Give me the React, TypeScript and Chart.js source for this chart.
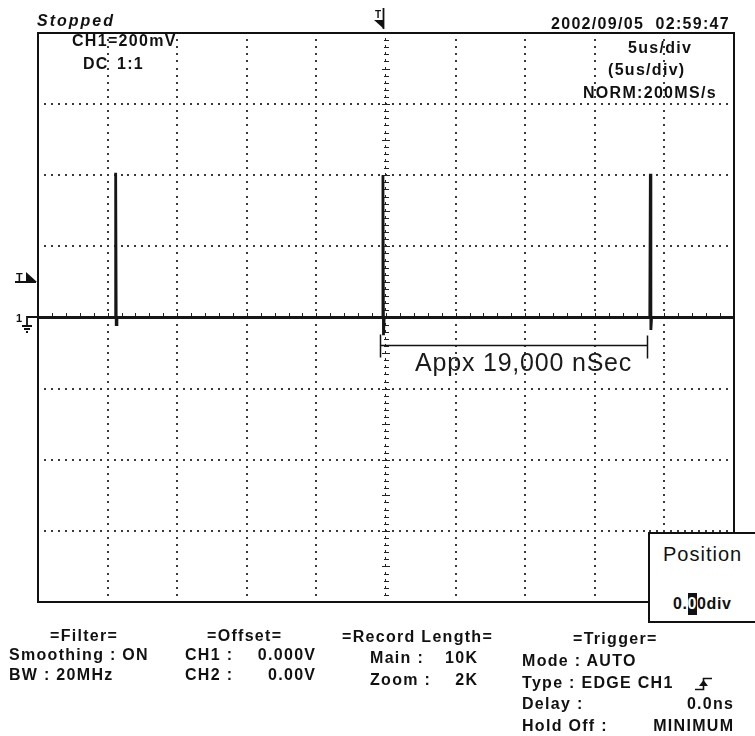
import React, { useEffect, useRef } from "react";
import { Chart, registerables } from "chart.js";
Chart.register(...registerables);

const timeUs = [-25, -19.46, -19.42, -19.38, -19.33, -0.26, -0.22, -0.18, -0.13, 18.95, 18.99, 19.03, 19.08, 25];
const ch1Volts = [0, 0, 0.407, -0.02, 0, 0, 0.4, -0.05, 0, 0, 0.404, -0.035, 0, 0];
const xRangeUs = [-25, 25];
const yRangeV = [-0.8, 0.8];
const xGridUs = [-20, -15, -10, -5, 5, 10, 15, 20];
const yGridV = [-0.6, -0.4, -0.2, 0.2, 0.4, 0.6];
const triggerTimeUs = -0.22;
const triggerLevelV = 0.114;
const groundLevelV = 0;
const measureStartUs = -0.42;
const measureEndUs = 18.78;
const bracketLevelV = -0.078;

const FONT = '"Liberation Sans", Arial, sans-serif';

type TxtProps = {
  x?: number;
  right?: number;
  y: number;
  size?: number;
  bold?: boolean;
  italic?: boolean;
  ls?: number;
  color?: string;
  children: React.ReactNode;
};

function Txt({ x, right, y, size = 16, bold = true, italic = false, ls = 1.3, color = "#111", children }: TxtProps) {
  const style: React.CSSProperties = {
    position: "absolute",
    top: y - 0.13 * size,
    fontFamily: FONT,
    fontSize: size,
    lineHeight: `${size}px`,
    fontWeight: bold ? 700 : 400,
    fontStyle: italic ? "italic" : "normal",
    letterSpacing: ls,
    whiteSpace: "pre",
    color,
  };
  if (right !== undefined) style.right = 755 - right - ls;
  else style.left = x;
  return <div style={style}>{children}</div>;
}

export default function App() {
  const ref = useRef<HTMLCanvasElement>(null);

  useEffect(() => {
    const canvas = ref.current;
    if (!canvas) return;

    const scopePlugin = {
      id: "scopeScreen",
      beforeDatasetsDraw(chart: any) {
        const { ctx, scales } = chart;
        const x = scales.x;
        const y = scales.y;
        ctx.save();
        ctx.fillStyle = "#3a3a3a";
        const dot = (px: number, py: number) => ctx.fillRect(Math.round(px - 1), Math.round(py - 1), 2, 2);
        // vertical dotted grid lines (dots every 1/10 div)
        for (const g of xGridUs) {
          const px = x.getPixelForValue(g);
          for (let k = 1; k < 80; k++) dot(px, y.getPixelForValue(yRangeV[0] + k * 0.02));
        }
        // horizontal dotted grid lines
        for (const g of yGridV) {
          const py = y.getPixelForValue(g);
          for (let k = 1; k < 100; k++) dot(x.getPixelForValue(xRangeUs[0] + k * 0.5), py);
        }
        // centre axes with minor ticks
        ctx.fillStyle = "#222";
        const x0 = x.getPixelForValue(0);
        const y0 = y.getPixelForValue(groundLevelV);
        for (let k = 1; k < 80; k++) {
          const py = Math.round(y.getPixelForValue(yRangeV[0] + k * 0.02));
          const w = k % 5 === 0 ? 8 : 5;
          ctx.fillRect(Math.round(x0 - w / 2), py, w, 1);
          ctx.fillRect(Math.round(x0) - 1, py - 2, 1, 3);
        }
        for (let k = 1; k < 50; k++) {
          const px = Math.round(x.getPixelForValue(xRangeUs[0] + k * 1));
          ctx.fillRect(px, Math.round(y0 - 5), 1, 6);
        }
        ctx.restore();
      },
      afterDatasetsDraw(chart: any) {
        const { ctx, chartArea: a, scales } = chart;
        const x = scales.x;
        const y = scales.y;
        ctx.save();
        ctx.strokeStyle = "#111";
        ctx.fillStyle = "#111";
        // frame
        ctx.lineWidth = 2;
        ctx.strokeRect(a.left, a.top, a.right - a.left, a.bottom - a.top);

        // measurement bracket
        const xs = Math.round(x.getPixelForValue(measureStartUs)) + 0.5;
        const xe = Math.round(x.getPixelForValue(measureEndUs)) + 0.5;
        const yb = Math.round(y.getPixelForValue(bracketLevelV)) + 0.5;
        ctx.lineWidth = 1.5;
        ctx.beginPath();
        ctx.moveTo(xs, yb);
        ctx.lineTo(xe, yb);
        ctx.moveTo(xs, yb - 11);
        ctx.lineTo(xs, yb + 12);
        ctx.moveTo(xe, yb - 10);
        ctx.lineTo(xe, yb + 13);
        ctx.stroke();

        // trigger level marker (left)
        const ty = Math.round(y.getPixelForValue(triggerLevelV));
        ctx.font = `bold 11px ${FONT}`;
        ctx.fillText("T", 16, ty + 4);
        ctx.fillRect(15, ty + 4, 21, 2);
        ctx.beginPath();
        ctx.moveTo(26, ty - 5);
        ctx.lineTo(26, ty + 5);
        ctx.lineTo(37, ty + 5);
        ctx.closePath();
        ctx.fill();

        // ground marker (left)
        const gy = Math.round(y.getPixelForValue(groundLevelV));
        ctx.font = `bold 11px ${FONT}`;
        ctx.fillText("1", 16, gy + 4);
        ctx.lineWidth = 1.8;
        ctx.beginPath();
        ctx.moveTo(37, gy - 1);
        ctx.lineTo(27, gy - 1);
        ctx.lineTo(27, gy + 8);
        ctx.moveTo(22, gy + 8);
        ctx.lineTo(32, gy + 8);
        ctx.moveTo(24, gy + 11);
        ctx.lineTo(30, gy + 11);
        ctx.moveTo(26, gy + 14);
        ctx.lineTo(28, gy + 14);
        ctx.stroke();

        // trigger time marker (top)
        const tx = Math.round(x.getPixelForValue(triggerTimeUs));
        ctx.font = `bold 10px ${FONT}`;
        ctx.fillText("T", tx - 8, 18);
        ctx.lineWidth = 1.8;
        ctx.beginPath();
        ctx.moveTo(tx + 0.5, 8);
        ctx.lineTo(tx + 0.5, 29);
        ctx.stroke();
        ctx.beginPath();
        ctx.moveTo(tx - 9, 20);
        ctx.lineTo(tx + 1, 20);
        ctx.lineTo(tx + 1, 29);
        ctx.closePath();
        ctx.fill();

        // rising-edge symbol
        ctx.lineWidth = 1.6;
        ctx.beginPath();
        ctx.moveTo(695, 689.5);
        ctx.lineTo(703.5, 689.5);
        ctx.lineTo(703.5, 678.5);
        ctx.lineTo(712, 678.5);
        ctx.stroke();
        ctx.beginPath();
        ctx.moveTo(699, 686);
        ctx.lineTo(708, 686);
        ctx.lineTo(703.5, 680);
        ctx.closePath();
        ctx.fill();
        ctx.restore();
      },
    };

    const chart = new Chart(canvas, {
      type: "line",
      data: {
        datasets: [
          {
            label: "CH1",
            data: timeUs.map((t, i) => ({ x: t, y: ch1Volts[i] })),
            borderColor: "#161616",
            borderWidth: 2.8,
            pointRadius: 0,
            tension: 0,
            fill: false,
          },
        ],
      },
      options: {
        animation: false,
        responsive: false,
        layout: { padding: { left: 38, top: 33, right: 21, bottom: 134 } },
        scales: {
          x: { type: "linear", min: xRangeUs[0], max: xRangeUs[1], display: false },
          y: { type: "linear", min: yRangeV[0], max: yRangeV[1], display: false },
        },
        plugins: { legend: { display: false }, tooltip: { enabled: false } },
      },
      plugins: [scopePlugin],
    });
    return () => chart.destroy();
  }, []);

  return (
    <div style={{ position: "absolute", left: 0, top: 0, width: 755, height: 736, background: "#fff", overflow: "hidden" }}>
      <canvas ref={ref} width={755} height={736} style={{ position: "absolute", left: 0, top: 0, width: 755, height: 736 }} />

      {/* status line */}
      <Txt x={37} y={15} italic ls={2}>Stopped</Txt>
      <Txt x={551} y={18}>2002/09/05  02:59:47</Txt>

      {/* in-graticule labels */}
      <Txt x={72} y={35}>CH1=200mV</Txt>
      <Txt x={83} y={58}>DC</Txt>
      <Txt x={117} y={58}>1:1</Txt>
      <Txt x={628} y={42}>5us/div</Txt>
      <Txt x={608} y={64}>(5us/div)</Txt>
      <Txt x={583} y={87}>NORM:200MS/s</Txt>

      <Txt x={415} y={353} size={25} bold={false} ls={0.8} color="#1a1a1a">Appx 19,000 nSec</Txt>

      {/* Position box */}
      <div style={{ position: "absolute", left: 648, top: 532, width: 130, height: 91, boxSizing: "border-box", border: "2px solid #111", background: "#fff" }} />
      <Txt x={663} y={547} size={20} bold={false} ls={1}>Position</Txt>
      <div style={{ position: "absolute", left: 673, top: 595 - 2, fontFamily: FONT, fontSize: 16, lineHeight: "16px", fontWeight: 700, letterSpacing: 0.6, color: "#111", whiteSpace: "pre" }}>
        0.<span style={{ background: "#111", color: "#fff", display: "inline-block", padding: "3px 0" }}>0</span>0div
      </div>

      {/* bottom panel */}
      <Txt x={50} y={630}>=Filter=</Txt>
      <Txt x={9} y={649}>Smoothing : ON</Txt>
      <Txt x={9} y={669}>BW : 20MHz</Txt>

      <Txt x={207} y={630}>=Offset=</Txt>
      <Txt x={185} y={649}>CH1 :</Txt>
      <Txt right={315} y={649}>0.000V</Txt>
      <Txt x={185} y={669}>CH2 :</Txt>
      <Txt right={315} y={669}>0.00V</Txt>

      <Txt x={342} y={631}>=Record Length=</Txt>
      <Txt x={370} y={652}>Main :</Txt>
      <Txt right={477} y={652}>10K</Txt>
      <Txt x={370} y={674}>Zoom :</Txt>
      <Txt right={477} y={674}>2K</Txt>

      <Txt x={573} y={633}>=Trigger=</Txt>
      <Txt x={522} y={655}>Mode : AUTO</Txt>
      <Txt x={522} y={677}>Type : EDGE CH1</Txt>
      <Txt x={522} y={698}>Delay :</Txt>
      <Txt right={733} y={698}>0.0ns</Txt>
      <Txt x={522} y={720}>Hold Off :</Txt>
      <Txt right={733} y={720}>MINIMUM</Txt>
    </div>
  );
}
